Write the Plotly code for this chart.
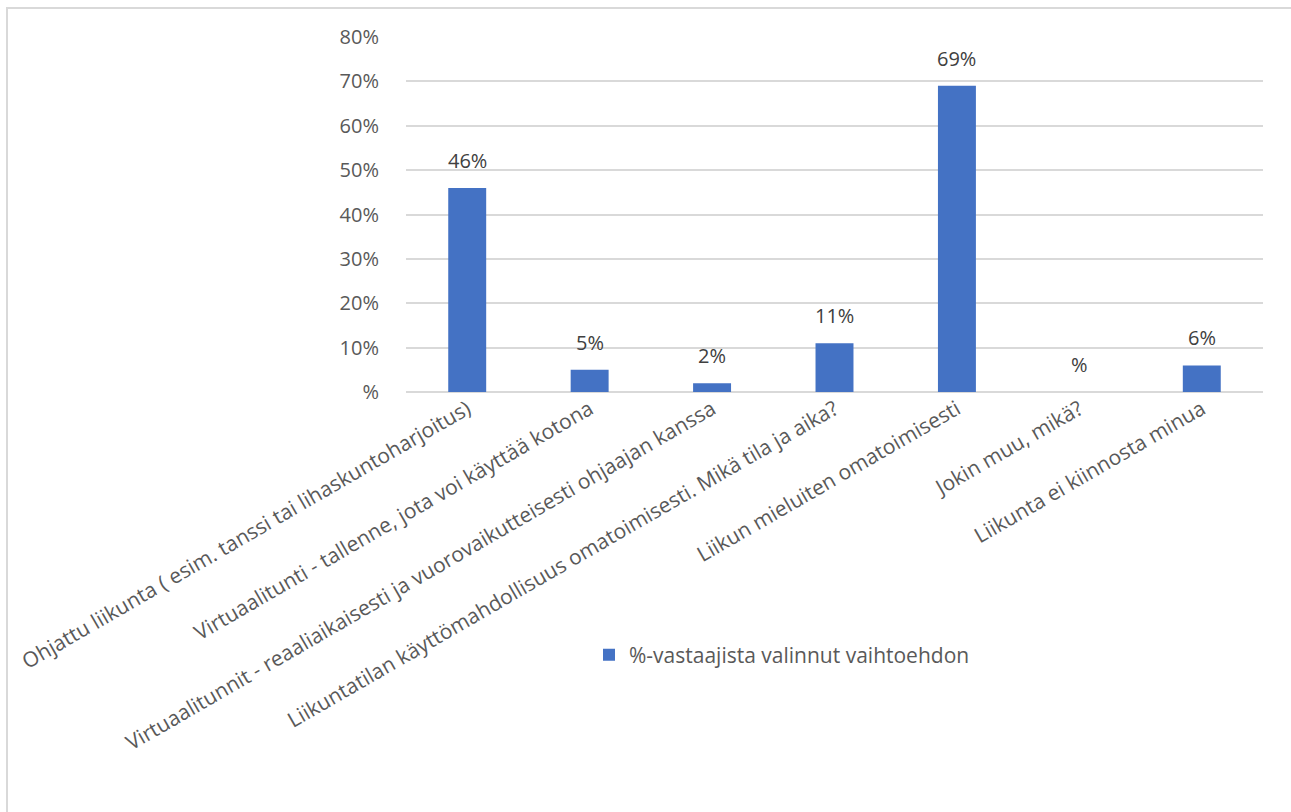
import plotly.graph_objects as go

# Survey answers: share of respondents choosing each option
categories = [
    "Ohjattu liikunta ( esim. tanssi tai lihaskuntoharjoitus)",
    "Virtuaalitunti - tallenne, jota voi käyttää kotona",
    "Virtuaalitunnit - reaaliaikaisesti ja vuorovaikutteisesti ohjaajan kanssa",
    "Liikuntatilan käyttömahdollisuus omatoimisesti. Mikä tila ja aika?",
    "Liikun mieluiten omatoimisesti",
    "Jokin muu, mikä?",
    "Liikunta ei kiinnosta minua",
]
values = [46, 5, 2, 11, 69, 0, 6]
series_name = "%-vastaajista valinnut vaihtoehdon"

y_ticks = [0, 10, 20, 30, 40, 50, 60, 70, 80]
y_tick_text = ["%" if v == 0 else f"{v}%" for v in y_ticks]
value_labels = ["%" if v == 0 else f"{v}%" for v in values]

FONT = "Open Sans"
BAR = "#4472C4"
TEXT = "#595959"

W, H = 1291, 812
L, R, T, B = 406, 28, 37, 420
pw, ph = W - L - R, H - T - B

fig = go.Figure(
    go.Bar(
        x=categories,
        y=values,
        name=series_name,
        marker=dict(color=BAR, line=dict(width=0)),
        width=0.31,
        showlegend=True,
    )
)

# value labels sitting above each bar
for cat, v, lab in zip(categories, values, value_labels):
    fig.add_annotation(
        x=cat, y=v, text=lab, showarrow=False,
        yanchor="bottom", yshift=12,
        font=dict(family=FONT, size=20, color="#404040"),
    )

# chart-area frame (light gray), extending past the right/bottom edge
def px_x(x):
    return (x - L) / pw

def px_y(y):
    return (H - B - y) / ph

fig.add_shape(
    type="rect", xref="paper", yref="paper",
    x0=px_x(7), x1=px_x(1300), y0=px_y(8), y1=px_y(830),
    line=dict(color="#D9D9D9", width=2), fillcolor="rgba(0,0,0,0)", layer="below",
)

fig.update_layout(
    width=W, height=H,
    margin=dict(l=L, r=R, t=T, b=B, pad=0),
    paper_bgcolor="white", plot_bgcolor="white",
    font=dict(family=FONT, color=TEXT),
    bargap=0.69,
    legend=dict(
        orientation="h", x=px_x(782), xanchor="center", y=px_y(655), yanchor="middle",
        font=dict(family=FONT, size=21, color=TEXT),
        itemsizing="constant", itemwidth=30,
    ),
    xaxis=dict(
        tickangle=-30,
        tickfont=dict(family=FONT, size=21, color=TEXT),
        showgrid=False, showline=False, ticks="", automargin=False,
    ),
    yaxis=dict(
        range=[0, 80],
        tickvals=y_ticks, ticktext=y_tick_text,
        tickfont=dict(family=FONT, size=20, color=TEXT),
        showgrid=True, gridcolor="#D9D9D9", gridwidth=1.5,
        zeroline=True, zerolinecolor="#D9D9D9", zerolinewidth=1.5,
        showline=False, ticks="outside", ticklen=22, tickcolor="rgba(0,0,0,0)",
        automargin=False,
    ),
)

fig.write_html("out.html")
